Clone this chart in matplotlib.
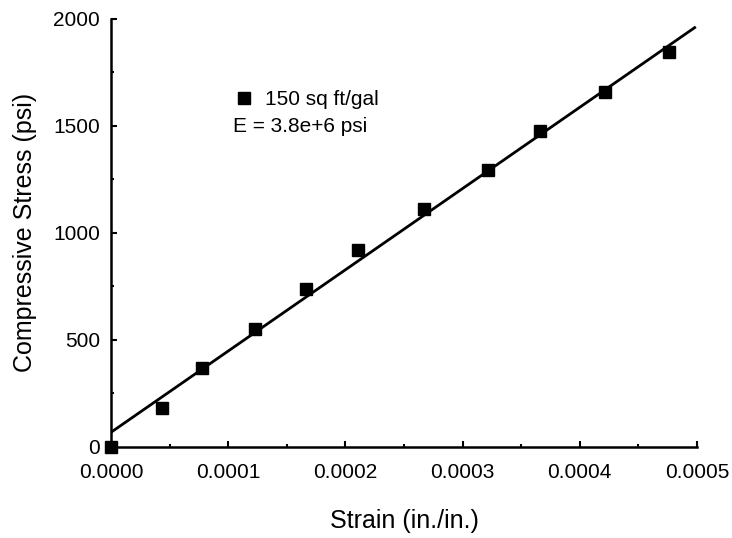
import numpy as np
import matplotlib
matplotlib.use("Agg")
import matplotlib.pyplot as plt
from matplotlib.ticker import MultipleLocator

plt.rcParams['font.family'] = ['Liberation Sans', 'DejaVu Sans']

# Measured compressive stress vs. strain
strain = [0.0, 0.0000438, 0.0000779, 0.0001229, 0.0001664, 0.000211,
          0.0002671, 0.000322, 0.000366, 0.0004215, 0.000476]
stress = [0, 180, 367, 549, 736, 922, 1110, 1294, 1478, 1660, 1847]

series_label = "150 sq ft/gal"
modulus = 3.8e6          # psi, slope of the fitted line
fit_x_end = 0.000498

x_ticks = [0.0, 0.0001, 0.0002, 0.0003, 0.0004, 0.0005]
x_tick_labels = ["0.0000", "0.0001", "0.0002", "0.0003", "0.0004", "0.0005"]
y_ticks = [0, 500, 1000, 1500, 2000]
y_tick_labels = ["0", "500", "1000", "1500", "2000"]

fig = plt.figure(figsize=(7.32, 5.38), dpi=100)
ax = fig.add_axes([0.1516, 0.1697, 0.8006, 0.795])

# line through the data centroid with the stated modulus as slope
xs = np.asarray(strain)
ys = np.asarray(stress, dtype=float)
intercept = ys.mean() - modulus * xs.mean()
fx = np.array([0.0, fit_x_end])
ax.plot(fx, intercept + modulus * fx, color='black', lw=2.0, zorder=2)

ax.plot(strain, stress, linestyle='none', marker='s', markersize=9,
        color='black', clip_on=False, zorder=3, label=series_label)

ax.set_xlim(0, 0.0005)
ax.set_ylim(0, 2000)
ax.set_xticks(x_ticks)
ax.set_xticklabels(x_tick_labels)
ax.set_yticks(y_ticks)
ax.set_yticklabels(y_tick_labels)
ax.xaxis.set_minor_locator(MultipleLocator(0.00005))
ax.yaxis.set_minor_locator(MultipleLocator(250))

for side in ('top', 'right'):
    ax.spines[side].set_visible(False)
for side in ('left', 'bottom'):
    ax.spines[side].set_linewidth(1.8)

ax.tick_params(which='both', direction='in', width=1.5, labelsize=15)
ax.tick_params(which='major', length=4.5)
ax.tick_params(which='minor', length=2.5)
ax.tick_params(axis='x', which='major', pad=12)
ax.tick_params(axis='y', which='major', pad=8)

ax.set_xlabel("Strain (in./in.)", fontsize=18, labelpad=19)
ax.set_ylabel("Compressive Stress (psi)", fontsize=18, labelpad=11.5)

ax.legend(loc='center left', bbox_to_anchor=(0.2163, 0.8106),
          frameon=False, fontsize=15, handlelength=0.6, handletextpad=0.7,
          borderpad=0, borderaxespad=0)
ax.text(0.208, 0.7475, "E = 3.8e+6 psi", transform=ax.transAxes,
        fontsize=15, ha='left', va='center')

fig.savefig("out.png", dpi=100)
